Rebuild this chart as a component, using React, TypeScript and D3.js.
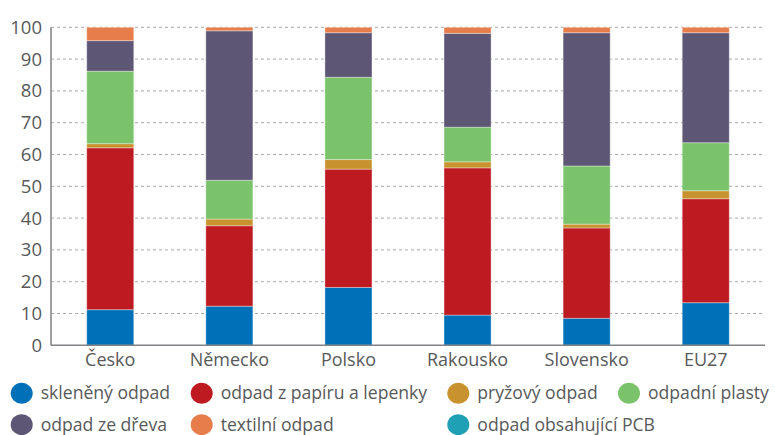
import React from "react";
import * as d3 from "d3";

const categories = ["Česko", "Německo", "Polsko", "Rakousko", "Slovensko", "EU27"];
const seriesNames = [
  "skleněný odpad",
  "odpad z papíru a lepenky",
  "pryžový odpad",
  "odpadní plasty",
  "odpad ze dřeva",
  "textilní odpad",
  "odpad obsahující PCB",
];
const glass = [11.2, 12.3, 18.2, 9.5, 8.5, 13.4];
const paper = [50.9, 25.3, 37.2, 46.3, 28.4, 32.7];
const rubber = [1.3, 2.1, 3.0, 1.9, 1.2, 2.5];
const plastics = [22.8, 12.2, 25.9, 10.9, 18.3, 15.1];
const wood = [9.6, 47.0, 14.0, 29.5, 41.9, 34.6];
const textile = [4.2, 1.1, 1.7, 1.9, 1.7, 1.7];
const pcb = [0, 0, 0, 0, 0, 0];
const yTicks = [0, 10, 20, 30, 40, 50, 60, 70, 80, 90, 100];

const colors = ["#0070b8", "#be1a21", "#c8922e", "#7bc36b", "#5d5674", "#e67d4a", "#1fa0b5"];

const W = 775;
const H = 435;
const FONT = "'Open Sans', sans-serif";
const TXT = "#58595b";

export default function App() {
  const seriesValues = [glass, paper, rubber, plastics, wood, textile, pcb];
  const rows = categories.map((c, i) => {
    const r: any = { cat: c };
    seriesNames.forEach((s, k) => (r[s] = seriesValues[k][i]));
    return r;
  });
  const stacked = d3.stack().keys(seriesNames)(rows);

  const x = d3.scaleBand().domain(categories).range([51, 765]).paddingInner(0.605).paddingOuter(0.3);
  const y = d3.scaleLinear().domain([0, 100]).range([345.3, 27.3]);

  const legendCols = [21.7, 201.7, 458.3, 629];
  const legendRows = [393.3, 424.7];
  const legendPos = [
    [0, 0], [1, 0], [2, 0], [3, 0],
    [0, 1], [1, 1], [2, 1],
  ];

  return (
    <svg width={W} height={H} style={{ position: "absolute", left: 0, top: 0 }} fontFamily={FONT}>
      <rect width={W} height={H} fill="#fff" />
      {yTicks.map((t) => (
        <g key={t}>
          {t > 0 && (
            <line x1={51} x2={765} y1={y(t)} y2={y(t)} stroke="#a7a9ac" strokeWidth={1} strokeDasharray="3,3" />
          )}
          <text x={42} y={y(t)} dy="0.35em" textAnchor="end" fontSize={18.5} fill={TXT}>
            {t}
          </text>
        </g>
      ))}
      {stacked.map((s, k) => (
        <g key={s.key} fill={colors[k]}>
          {s.map((d, i) => {
            const h = y(d[0]) - y(d[1]);
            if (h <= 0) return null;
            return (
              <rect
                key={i}
                x={x(categories[i])}
                y={y(d[1])}
                width={x.bandwidth()}
                height={h}
                stroke="#ffffff"
                strokeOpacity={0.35}
                strokeWidth={1}
              />
            );
          })}
        </g>
      ))}
      <line x1={51} x2={51} y1={27.3} y2={345.3} stroke="#808285" strokeWidth={1.5} />
      <line x1={51} x2={765} y1={345.3} y2={345.3} stroke="#808285" strokeWidth={1.5} />
      {categories.map((c) => (
        <text key={c} x={x(c)! + x.bandwidth() / 2} y={366} textAnchor="middle" fontSize={18} fill={TXT}>
          {c}
        </text>
      ))}
      {seriesNames.map((s, k) => {
        const [ci, ri] = legendPos[k];
        const cx = legendCols[ci];
        const cy = legendRows[ri];
        return (
          <g key={s}>
            <ellipse cx={cx} cy={cy} rx={11} ry={10.5} fill={colors[k]} />
            <text x={cx + 19} y={cy} dy="0.34em" fontSize={17.6} fill={TXT}>
              {s}
            </text>
          </g>
        );
      })}
    </svg>
  );
}
